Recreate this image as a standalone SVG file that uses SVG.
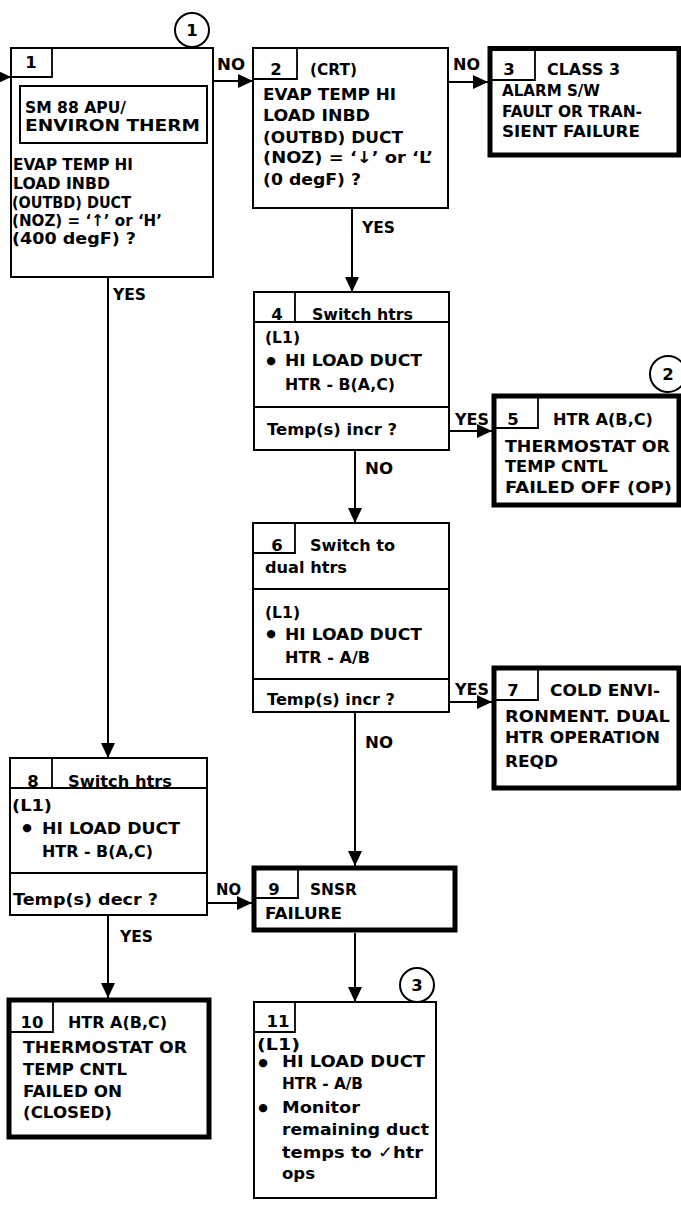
<svg xmlns="http://www.w3.org/2000/svg" width="681" height="1205" viewBox="0 0 681 1205">
<style>
.t{font-family:"DejaVu Sans","Liberation Sans",sans-serif;font-size:16.5px;font-weight:bold;fill:#000}
.n{text-anchor:middle}
.b{fill:#fff;stroke:#000;stroke-width:2}
.k{fill:#fff;stroke:#000;stroke-width:5}
.l{fill:none;stroke:#000;stroke-width:1.8}
.c{fill:none;stroke:#000;stroke-width:2}
.bu{font-family:"DejaVu Sans",sans-serif;font-size:11px;fill:#000}
</style>
<defs>
<marker id="ah" markerUnits="userSpaceOnUse" markerWidth="16" markerHeight="14" refX="15" refY="7" orient="auto">
<path d="M0,0 L15,7 L0,14 z" fill="#000"/>
</marker>
</defs>
<rect width="681" height="1205" fill="#fff"/>

<g id="n1">
<rect class="b" x="11" y="48" width="202" height="229"/>
<path class="l" d="M11,77 H52 V48"/>
<rect class="b" x="20" y="86" width="187" height="57"/>
<text class="t n" x="31" y="68">1</text>
<text class="t" x="25" y="113" textLength="101" lengthAdjust="spacingAndGlyphs">SM 88 APU/</text>
<text class="t" x="25" y="131" textLength="175" lengthAdjust="spacingAndGlyphs">ENVIRON THERM</text>
<text class="t" x="13" y="170" textLength="120" lengthAdjust="spacingAndGlyphs">EVAP TEMP HI</text>
<text class="t" x="13" y="189" textLength="97" lengthAdjust="spacingAndGlyphs">LOAD INBD</text>
<text class="t" x="12" y="208" textLength="119" lengthAdjust="spacingAndGlyphs">(OUTBD) DUCT</text>
<text class="t" x="12" y="226" textLength="150" lengthAdjust="spacingAndGlyphs">(NOZ) = ‘↑’ or ‘H’</text>
<text class="t" x="12" y="244" textLength="124" lengthAdjust="spacingAndGlyphs">(400 degF)  ?</text>
</g>
<g id="c1">
<circle class="c" cx="192" cy="30" r="17"/>
<text class="t n" x="192" y="36">1</text>
</g>

<g id="n2">
<rect class="b" x="253" y="48" width="195" height="160"/>
<path class="l" d="M253,79 H297 V48"/>
<text class="t n" x="276" y="75">2</text>
<text class="t" x="310" y="75" textLength="47" lengthAdjust="spacingAndGlyphs">(CRT)</text>
<text class="t" x="263" y="100" textLength="133" lengthAdjust="spacingAndGlyphs">EVAP TEMP HI</text>
<text class="t" x="263" y="121" textLength="107" lengthAdjust="spacingAndGlyphs">LOAD INBD</text>
<text class="t" x="263" y="143" textLength="140" lengthAdjust="spacingAndGlyphs">(OUTBD) DUCT</text>
<text class="t" x="263" y="163" textLength="170" lengthAdjust="spacingAndGlyphs">(NOZ) = ‘↓’ or ‘L’</text>
<text class="t" x="263" y="185" textLength="98" lengthAdjust="spacingAndGlyphs">(0 degF)  ?</text>
</g>

<g id="n3">
<rect class="k" x="490" y="48.5" width="189" height="106.5"/>
<path class="l" d="M490,80 H535 V48"/>
<text class="t n" x="509" y="75">3</text>
<text class="t" x="547" y="75" textLength="73" lengthAdjust="spacingAndGlyphs">CLASS 3</text>
<text class="t" x="502" y="96" textLength="98" lengthAdjust="spacingAndGlyphs">ALARM S/W</text>
<text class="t" x="502" y="117" textLength="140" lengthAdjust="spacingAndGlyphs">FAULT OR TRAN-</text>
<text class="t" x="502" y="137" textLength="138" lengthAdjust="spacingAndGlyphs">SIENT FAILURE</text>
</g>

<g id="n4">
<rect class="b" x="254" y="292" width="195" height="158"/>
<path class="l" d="M254,322 H449 M295,292 V322 M254,407 H449"/>
<text class="t n" x="277" y="320">4</text>
<text class="t" x="312" y="320" textLength="101" lengthAdjust="spacingAndGlyphs">Switch htrs</text>
<text class="t" x="265" y="343" textLength="35" lengthAdjust="spacingAndGlyphs">(L1)</text>
<text class="bu n" x="271" y="364">●</text>
<text class="t" x="285" y="366" textLength="137" lengthAdjust="spacingAndGlyphs">HI LOAD DUCT</text>
<text class="t" x="285" y="390" textLength="110" lengthAdjust="spacingAndGlyphs">HTR - B(A,C)</text>
<text class="t" x="267" y="435" textLength="130" lengthAdjust="spacingAndGlyphs">Temp(s) incr  ?</text>
</g>

<g id="n5">
<rect class="k" x="494" y="396" width="185" height="109"/>
<path class="l" d="M494,428 H538 V396"/>
<text class="t n" x="513" y="425">5</text>
<text class="t" x="553" y="425" textLength="100" lengthAdjust="spacingAndGlyphs">HTR A(B,C)</text>
<text class="t" x="505" y="452" textLength="165" lengthAdjust="spacingAndGlyphs">THERMOSTAT OR</text>
<text class="t" x="505" y="472" textLength="103" lengthAdjust="spacingAndGlyphs">TEMP CNTL</text>
<text class="t" x="505" y="493" textLength="167" lengthAdjust="spacingAndGlyphs">FAILED OFF (OP)</text>
</g>
<g id="c2">
<circle class="c" cx="668" cy="374" r="18"/>
<text class="t n" x="668" y="380">2</text>
</g>

<g id="n6">
<rect class="b" x="253" y="523" width="196" height="189"/>
<path class="l" d="M253,553 H295 V523 M253,589 H449 M253,679 H449"/>
<text class="t n" x="277" y="551">6</text>
<text class="t" x="310" y="551" textLength="85" lengthAdjust="spacingAndGlyphs">Switch to</text>
<text class="t" x="265" y="573" textLength="82" lengthAdjust="spacingAndGlyphs">dual htrs</text>
<text class="t" x="265" y="618" textLength="35" lengthAdjust="spacingAndGlyphs">(L1)</text>
<text class="bu n" x="271" y="637">●</text>
<text class="t" x="285" y="640" textLength="137" lengthAdjust="spacingAndGlyphs">HI LOAD DUCT</text>
<text class="t" x="285" y="663" textLength="85" lengthAdjust="spacingAndGlyphs">HTR - A/B</text>
<text class="t" x="267" y="705" textLength="128" lengthAdjust="spacingAndGlyphs">Temp(s) incr  ?</text>
</g>

<g id="n7">
<rect class="k" x="494" y="668" width="185" height="120"/>
<path class="l" d="M494,700 H538 V668"/>
<text class="t n" x="513" y="696">7</text>
<text class="t" x="550" y="696" textLength="110" lengthAdjust="spacingAndGlyphs">COLD ENVI-</text>
<text class="t" x="505" y="722" textLength="165" lengthAdjust="spacingAndGlyphs">RONMENT.  DUAL</text>
<text class="t" x="505" y="743" textLength="155" lengthAdjust="spacingAndGlyphs">HTR OPERATION</text>
<text class="t" x="505" y="767" textLength="53" lengthAdjust="spacingAndGlyphs">REQD</text>
</g>

<g id="n8">
<rect class="b" x="10" y="758" width="197" height="157"/>
<path class="l" d="M10,788 H207 M52,758 V788 M10,873 H207"/>
<text class="t n" x="33" y="787">8</text>
<text class="t" x="68" y="787" textLength="104" lengthAdjust="spacingAndGlyphs">Switch htrs</text>
<text class="t" x="12" y="811" textLength="40" lengthAdjust="spacingAndGlyphs">(L1)</text>
<text class="bu n" x="27" y="831">●</text>
<text class="t" x="42" y="834" textLength="138" lengthAdjust="spacingAndGlyphs">HI LOAD DUCT</text>
<text class="t" x="42" y="857" textLength="111" lengthAdjust="spacingAndGlyphs">HTR - B(A,C)</text>
<text class="t" x="13" y="905" textLength="145" lengthAdjust="spacingAndGlyphs">Temp(s) decr  ?</text>
</g>

<g id="n9">
<rect class="k" x="254" y="868" width="201" height="62"/>
<path class="l" d="M254,898 H298 V868"/>
<text class="t n" x="274" y="895">9</text>
<text class="t" x="310" y="895" textLength="47" lengthAdjust="spacingAndGlyphs">SNSR</text>
<text class="t" x="265" y="919" textLength="77" lengthAdjust="spacingAndGlyphs">FAILURE</text>
</g>

<g id="n10">
<rect class="k" x="9" y="1000" width="200" height="137"/>
<path class="l" d="M9,1032 H53 V1000"/>
<text class="t n" x="32" y="1028">10</text>
<text class="t" x="68" y="1028" textLength="99" lengthAdjust="spacingAndGlyphs">HTR A(B,C)</text>
<text class="t" x="23" y="1053" textLength="164" lengthAdjust="spacingAndGlyphs">THERMOSTAT OR</text>
<text class="t" x="23" y="1075" textLength="104" lengthAdjust="spacingAndGlyphs">TEMP CNTL</text>
<text class="t" x="23" y="1097" textLength="99" lengthAdjust="spacingAndGlyphs">FAILED ON</text>
<text class="t" x="23" y="1118" textLength="89" lengthAdjust="spacingAndGlyphs">(CLOSED)</text>
</g>

<g id="n11">
<rect class="b" x="254" y="1002" width="182" height="196"/>
<path class="l" d="M254,1032 H295 V1002"/>
<text class="t n" x="278" y="1027">11</text>
<text class="t" x="257" y="1050" textLength="43" lengthAdjust="spacingAndGlyphs">(L1)</text>
<text class="bu n" x="263" y="1066">●</text>
<text class="t" x="282" y="1067" textLength="143" lengthAdjust="spacingAndGlyphs">HI LOAD DUCT</text>
<text class="t" x="282" y="1089" textLength="81" lengthAdjust="spacingAndGlyphs">HTR - A/B</text>
<text class="bu n" x="263" y="1111">●</text>
<text class="t" x="282" y="1113" textLength="78" lengthAdjust="spacingAndGlyphs">Monitor</text>
<text class="t" x="282" y="1135" textLength="147" lengthAdjust="spacingAndGlyphs">remaining duct</text>
<text class="t" x="282" y="1158" textLength="141" lengthAdjust="spacingAndGlyphs">temps to ✓htr</text>
<text class="t" x="282" y="1179" textLength="33" lengthAdjust="spacingAndGlyphs">ops</text>
</g>
<g id="c3">
<circle class="c" cx="417" cy="985" r="17"/>
<text class="t n" x="417" y="991">3</text>
</g>

<g id="connectors">
<path class="c" marker-end="url(#ah)" d="M-5,77 H11"/>
<path class="c" marker-end="url(#ah)" d="M213,81 H253"/>
<path class="c" marker-end="url(#ah)" d="M448,82 H488"/>
<path class="c" marker-end="url(#ah)" d="M108,277 V758"/>
<path class="c" marker-end="url(#ah)" d="M352,208 V292"/>
<path class="c" marker-end="url(#ah)" d="M449,431 H492"/>
<path class="c" marker-end="url(#ah)" d="M355,450 V523"/>
<path class="c" marker-end="url(#ah)" d="M449,702 H492"/>
<path class="c" marker-end="url(#ah)" d="M355,712 V866"/>
<path class="c" marker-end="url(#ah)" d="M207,903 H252"/>
<path class="c" marker-end="url(#ah)" d="M108,915 V998"/>
<path class="c" marker-end="url(#ah)" d="M355,933 V1002"/>
<text class="t" x="217" y="70" textLength="28" lengthAdjust="spacingAndGlyphs">NO</text>
<text class="t" x="453" y="70" textLength="27" lengthAdjust="spacingAndGlyphs">NO</text>
<text class="t" x="113" y="300" textLength="33" lengthAdjust="spacingAndGlyphs">YES</text>
<text class="t" x="362" y="233" textLength="33" lengthAdjust="spacingAndGlyphs">YES</text>
<text class="t" x="455" y="425" textLength="34" lengthAdjust="spacingAndGlyphs">YES</text>
<text class="t" x="365" y="474" textLength="28" lengthAdjust="spacingAndGlyphs">NO</text>
<text class="t" x="455" y="695" textLength="34" lengthAdjust="spacingAndGlyphs">YES</text>
<text class="t" x="365" y="748" textLength="28" lengthAdjust="spacingAndGlyphs">NO</text>
<text class="t" x="216" y="895" textLength="25" lengthAdjust="spacingAndGlyphs">NO</text>
<text class="t" x="120" y="942" textLength="33" lengthAdjust="spacingAndGlyphs">YES</text>
</g>
</svg>
